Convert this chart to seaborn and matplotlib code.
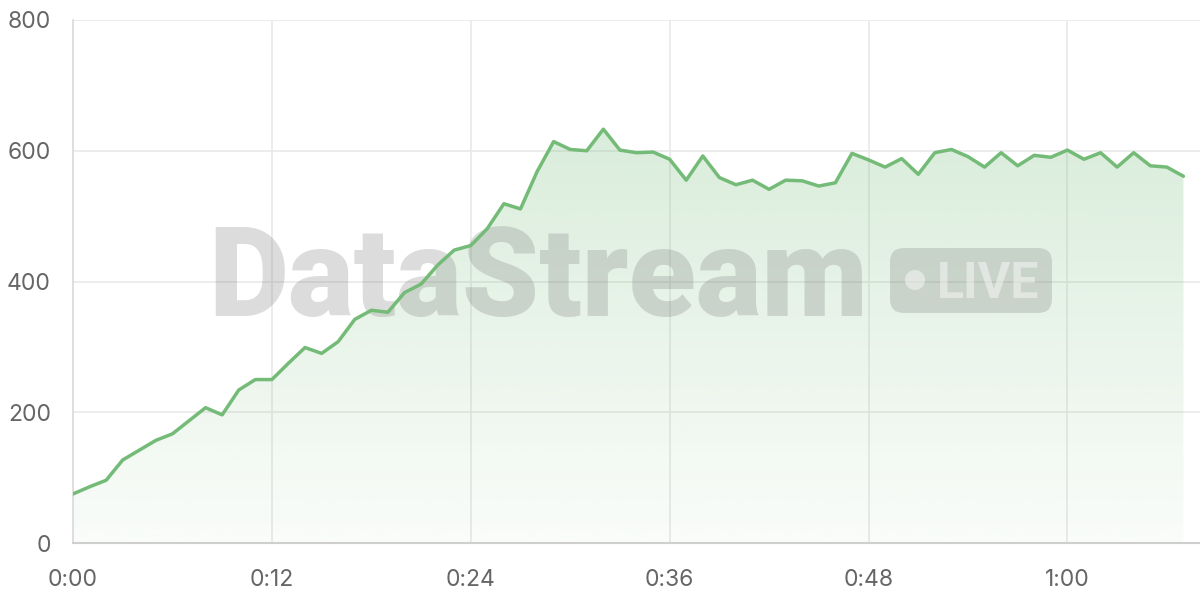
import numpy as np
import pandas as pd
import seaborn as sns
import matplotlib.pyplot as plt
from matplotlib.patches import FancyBboxPatch, Circle, Polygon
from matplotlib.transforms import IdentityTransform

# minutes since start, one sample per minute
minutes = list(range(68))
viewers = [75, 86, 96, 127, 142, 157, 167, 187, 207, 196,
           234, 250, 250, 275, 299, 290, 308, 342, 356, 353,
           383, 396, 425, 448, 455, 481, 519, 511, 568, 614,
           602, 600, 633, 601, 597, 598, 587, 555, 592, 559,
           548, 555, 541, 555, 554, 546, 551, 596, 586, 575,
           588, 564, 597, 602, 591, 575, 597, 577, 593, 590,
           601, 587, 597, 575, 597, 577, 575, 561]
x_ticks = [0, 12, 24, 36, 48, 60]
y_ticks = [0, 200, 400, 600, 800]

df = pd.DataFrame({'minute': minutes, 'viewers': viewers})

sns.set_style('white')
plt.rcParams['font.family'] = ['Inter', 'DejaVu Sans']

fig = plt.figure(figsize=(12, 6), dpi=100)
ax = fig.add_axes([73/1200, 57/600, 1127/1200, 523/600])

green = '#74bb78'

# gradient fill under the line
grad = np.linspace(0.04, 0.27, 256)
cmap_img = np.zeros((256, 1, 4))
cmap_img[..., 0] = 0x74/255
cmap_img[..., 1] = 0xbb/255
cmap_img[..., 2] = 0x78/255
cmap_img[..., 3] = grad.reshape(-1, 1)
im = ax.imshow(cmap_img, aspect='auto', origin='lower',
               extent=[0, 68, 0, max(viewers)], zorder=1)
poly = Polygon(np.column_stack([[minutes[0]] + minutes + [minutes[-1]],
                                [0] + viewers + [0]]),
               closed=True, facecolor='none', edgecolor='none')
ax.add_patch(poly)
im.set_clip_path(poly)

sns.lineplot(data=df, x='minute', y='viewers', ax=ax, color=green,
             linewidth=2.5, zorder=4)

# watermark
wm = dict(transform=IdentityTransform(), zorder=3)
ax.text(208, 600 - 316, 'DataStream', fontsize=89, fontweight='black',
        family=['Roboto', 'DejaVu Sans'], color='#777777', alpha=0.25,
        ha='left', va='baseline', **wm)
ax.add_patch(FancyBboxPatch((890 + 14, 600 - 313 + 14), 162 - 28, 65 - 28,
                            boxstyle='round,pad=14', facecolor='#777777',
                            edgecolor='none', alpha=0.25, **wm))
ax.add_patch(Circle((915, 600 - 280), 10, facecolor='white', alpha=0.45,
                    edgecolor='none', **wm))
ax.text(937, 600 - 298, 'LIVE', fontsize=36, fontweight='bold',
        family=['Roboto', 'DejaVu Sans'], color='white', alpha=0.45,
        ha='left', va='baseline', **wm)

ax.set_xlim(0, 68)
ax.set_ylim(0, 800)
ax.set_xticks(x_ticks)
ax.set_xticklabels([f'{m // 60}:{m % 60:02d}' for m in x_ticks])
ax.set_yticks(y_ticks)
ax.set_xlabel('')
ax.set_ylabel('')

ax.grid(True, color='#e9e9e9', linewidth=1.2, zorder=0)
ax.set_axisbelow(True)
for side in ['top', 'right']:
    ax.spines[side].set_visible(False)
ax.spines['left'].set_color('#dadada')
ax.spines['left'].set_linewidth(1.2)
ax.spines['bottom'].set_color('#cfcfcf')
ax.spines['bottom'].set_linewidth(1.5)
ax.tick_params(axis='both', length=11, width=1.2, color='#e6e6e6',
               labelsize=16.5, labelcolor='#666666')
ax.tick_params(axis='y', pad=5)
ax.tick_params(axis='x', pad=8)

fig.savefig('out.png', dpi=100)
